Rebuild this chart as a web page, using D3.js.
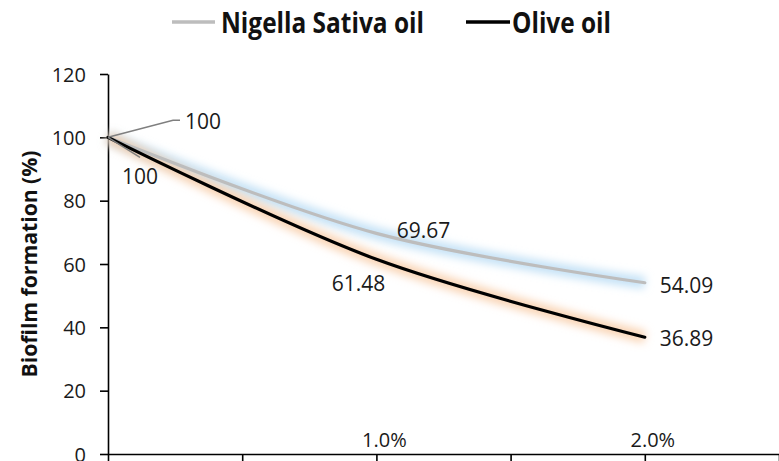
<!DOCTYPE html>
<html><head><meta charset="utf-8">
<script src="https://cdn.jsdelivr.net/npm/d3@7"></script>
<style>html,body{margin:0;padding:0;background:#fff;}</style>
</head><body>
<svg id="c" width="779" height="461"></svg>
<script>
const concentrations = [0, 1.0, 2.0];
const nigella = [100, 69.67, 54.09];
const olive = [100, 61.48, 36.89];
const yTicks = [0, 20, 40, 60, 80, 100, 120];
const xTicks = [0, 0.5, 1.0, 1.5, 2.0, 2.5];
const xTickLabels = ["", "", "1.0%", "", "2.0%", ""];
const seriesNames = ["Nigella Sativa oil", "Olive oil"];

const svg = d3.select("#c");
const x = d3.scaleLinear().domain([0, 2.5]).range([108, 779]);
const y = d3.scaleLinear().domain([0, 120]).range([454, 74]);
const font = "'Open Sans', 'DejaVu Sans', sans-serif";

const defs = svg.append("defs");
defs.append("filter").attr("id","glow").attr("x","-20%").attr("y","-50%").attr("width","140%").attr("height","200%")
  .append("feGaussianBlur").attr("stdDeviation", 4);

// y axis
const yAxis = svg.append("g").attr("transform","translate(108,0)")
  .call(d3.axisLeft(y).tickValues(yTicks).tickSize(8).tickPadding(14).tickSizeOuter(0));
yAxis.select(".domain").attr("stroke","#000").attr("stroke-width",1.6);
yAxis.selectAll(".tick line").attr("stroke","#000").attr("stroke-width",1.6);
yAxis.selectAll(".tick text").attr("font-family",font).attr("font-size",20).attr("fill","#1a1a1a").attr("dy","0.36em");

// x axis
const xAxis = svg.append("g").attr("transform","translate(0,454)")
  .call(d3.axisBottom(x).tickValues(xTicks).tickSize(10).tickSizeOuter(0).tickFormat(""));
xAxis.select(".domain").attr("stroke","#000").attr("stroke-width",1.6);
xAxis.selectAll(".tick line").attr("stroke","#000").attr("stroke-width",1.6);
svg.append("g").selectAll("text").data(xTicks).join("text")
  .attr("x", d => x(d) + 8).attr("y", 447)
  .attr("text-anchor","middle").attr("font-family",font).attr("font-size",20).attr("fill","#1a1a1a")
  .text((d,i) => xTickLabels[i]);

// y title
svg.append("text").attr("transform","translate(37,264) rotate(-90)")
  .attr("text-anchor","middle").attr("font-family",font).attr("font-weight","bold")
  .attr("font-size",22).attr("fill","#111")
  .attr("textLength",227).attr("lengthAdjust","spacingAndGlyphs")
  .text("Biofilm formation (%)");

const line = d3.line().x((d,i) => x(concentrations[i])).y(d => y(d)).curve(d3.curveCatmullRom.alpha(0.5));

const series = [
  {vals: nigella, color: "#bdbdbd", glow: "#b9dcf5"},
  {vals: olive, color: "#000000", glow: "#f8cba6"}
];
series.forEach(s => {
  svg.append("path").attr("d", line(s.vals)).attr("fill","none")
    .attr("stroke", s.glow).attr("stroke-width", 12).attr("stroke-opacity",0.85)
    .attr("filter","url(#glow)");
});
series.forEach(s => {
  svg.append("path").attr("d", line(s.vals)).attr("fill","none")
    .attr("stroke", s.color).attr("stroke-width", 3.2).attr("stroke-linecap","round");
});

// leader lines for the 100 labels
const p0 = [x(concentrations[0]), y(nigella[0])];
svg.append("polyline").attr("points", [[p0[0],p0[1]],[p0[0]+65,p0[1]-17],[p0[0]+72,p0[1]-17]].join(" "))
  .attr("fill","none").attr("stroke","#7f7f7f").attr("stroke-width",1.5);
svg.append("line").attr("x1",p0[0]).attr("y1",y(olive[0])).attr("x2",p0[0]+32).attr("y2",y(olive[0])+20)
  .attr("stroke","#7f7f7f").attr("stroke-width",1.5);

// data labels
const labelOffsets = [
  [[77,-8,"start"],[47,5,"middle"],[15,10,"start"]],
  [[14,47,"start"],[-18,32,"middle"],[15,9,"start"]]
];
[nigella, olive].forEach((vals, si) => {
  vals.forEach((v, i) => {
    const o = labelOffsets[si][i];
    svg.append("text").attr("x", x(concentrations[i]) + o[0]).attr("y", y(v) + o[1])
      .attr("text-anchor", o[2]).attr("font-family",font).attr("font-size",21).attr("fill","#1a1a1a")
      .text(v);
  });
});

// legend
const leg = [
  {x1:172, x2:215, tx:221, tl:203, color:"#bdbdbd"},
  {x1:466, x2:510, tx:512, tl:99, color:"#000"}
];
leg.forEach((l, i) => {
  svg.append("line").attr("x1",l.x1).attr("x2",l.x2).attr("y1",22).attr("y2",22)
    .attr("stroke",l.color).attr("stroke-width",3.5);
  svg.append("text").attr("x",l.tx).attr("y",33).attr("font-family",font).attr("font-weight","bold")
    .attr("font-size",28).attr("fill","#111").attr("textLength",l.tl).attr("lengthAdjust","spacingAndGlyphs")
    .text(seriesNames[i]);
});
</script>
</body></html>
